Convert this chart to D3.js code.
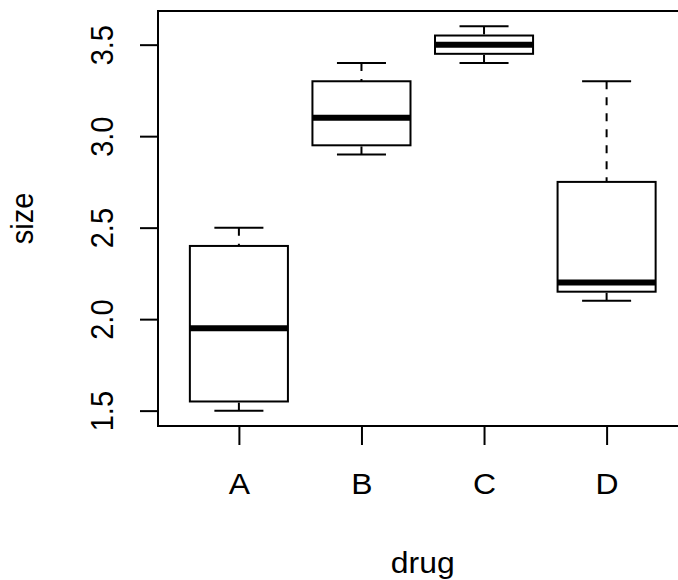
<!DOCTYPE html>
<html>
<head>
<meta charset="utf-8">
<script src="https://d3js.org/d3.v7.min.js"></script>
<style>
  body { margin: 0; background: #fff; overflow: hidden; }
  text { font-family: "Liberation Sans", Arial, sans-serif; fill: #000; }
</style>
</head>
<body>
<svg width="678" height="580"></svg>
<script>
var drugs = ["A", "B", "C", "D"];
var whiskerLow = [1.5, 2.9, 3.4, 2.1];
var q1 = [1.55, 2.95, 3.45, 2.15];
var median = [1.95, 3.1, 3.5, 2.2];
var q3 = [2.4, 3.3, 3.55, 2.75];
var whiskerHigh = [2.5, 3.4, 3.6, 3.3];
var yTicks = [1.5, 2.0, 2.5, 3.0, 3.5];

// plot region runs past the right edge, the reference is cropped there
var svg = d3.select("svg"),
    plotLeft = 158, plotRight = 687.5, plotTop = 11, plotBottom = 426,
    fontSize = 29, stretch = "scale(1.1,1)";

var data = drugs.map(function (d, i) {
    return { drug: d, lo: whiskerLow[i], q1: q1[i], med: median[i], q3: q3[i], hi: whiskerHigh[i] };
});

var y = d3.scaleLinear().domain([1.416, 3.684]).range([plotBottom, plotTop]);
var x = d3.scalePoint().domain(drugs).range([plotLeft, plotRight]).padding(0.66);
var unit = x.step();
var boxW = 0.8 * unit;

// y axis, labels parallel to the axis like R
var yAxis = svg.append("g")
    .attr("transform", "translate(" + plotLeft + ",0)")
    .call(d3.axisLeft(y).tickValues(yTicks).tickSize(18).tickFormat(d3.format(".1f")));
yAxis.select(".domain").remove();
yAxis.selectAll("line").attr("stroke", "#000").attr("stroke-width", 2);
yAxis.selectAll(".tick text")
    .attr("x", null).attr("dy", null).attr("y", null)
    .attr("text-anchor", "middle")
    .attr("font-size", fontSize)
    .attr("font-family", "Liberation Sans, Arial, sans-serif")
    .attr("transform", "translate(-45,0) " + stretch + " rotate(-90)");

var xAxis = svg.append("g")
    .attr("transform", "translate(0," + plotBottom + ")")
    .call(d3.axisBottom(x).tickSize(19));
xAxis.select(".domain").remove();
xAxis.selectAll("line").attr("stroke", "#000").attr("stroke-width", 2);
xAxis.selectAll(".tick text")
    .attr("y", null).attr("dy", null)
    .attr("font-size", fontSize)
    .attr("font-family", "Liberation Sans, Arial, sans-serif")
    .attr("transform", "translate(0,68) " + stretch);

// frame
svg.append("rect")
    .attr("x", plotLeft).attr("y", plotTop)
    .attr("width", plotRight - plotLeft).attr("height", plotBottom - plotTop)
    .attr("fill", "none").attr("stroke", "#000").attr("stroke-width", 2);

var g = svg.selectAll(".box").data(data).enter().append("g").attr("class", "box");

// whiskers, dashed from the cap towards the box
g.append("line")
    .attr("x1", function (d) { return x(d.drug); }).attr("x2", function (d) { return x(d.drug); })
    .attr("y1", function (d) { return y(d.hi); }).attr("y2", function (d) { return y(d.q3); })
    .attr("stroke", "#000").attr("stroke-width", 2).attr("stroke-dasharray", "8,8");
g.append("line")
    .attr("x1", function (d) { return x(d.drug); }).attr("x2", function (d) { return x(d.drug); })
    .attr("y1", function (d) { return y(d.lo); }).attr("y2", function (d) { return y(d.q1); })
    .attr("stroke", "#000").attr("stroke-width", 2).attr("stroke-dasharray", "8,8");

// caps
["hi", "lo"].forEach(function (k) {
    g.append("line")
        .attr("x1", function (d) { return x(d.drug) - boxW / 4; })
        .attr("x2", function (d) { return x(d.drug) + boxW / 4; })
        .attr("y1", function (d) { return y(d[k]); }).attr("y2", function (d) { return y(d[k]); })
        .attr("stroke", "#000").attr("stroke-width", 2);
});

// box
g.append("rect")
    .attr("x", function (d) { return x(d.drug) - boxW / 2; })
    .attr("y", function (d) { return y(d.q3); })
    .attr("width", boxW)
    .attr("height", function (d) { return y(d.q1) - y(d.q3); })
    .attr("fill", "none").attr("stroke", "#000").attr("stroke-width", 2);

// median
g.append("line")
    .attr("x1", function (d) { return x(d.drug) - boxW / 2; })
    .attr("x2", function (d) { return x(d.drug) + boxW / 2; })
    .attr("y1", function (d) { return y(d.med); }).attr("y2", function (d) { return y(d.med); })
    .attr("stroke", "#000").attr("stroke-width", 6);

svg.append("text")
    .attr("transform", "translate(" + (plotLeft + plotRight) / 2 + ",573) " + stretch)
    .attr("text-anchor", "middle").attr("font-size", fontSize)
    .text("drug");

svg.append("text")
    .attr("transform", "translate(33," + (plotTop + plotBottom) / 2 + ") " + stretch + " rotate(-90)")
    .attr("text-anchor", "middle").attr("font-size", fontSize)
    .text("size");
</script>
</body>
</html>
